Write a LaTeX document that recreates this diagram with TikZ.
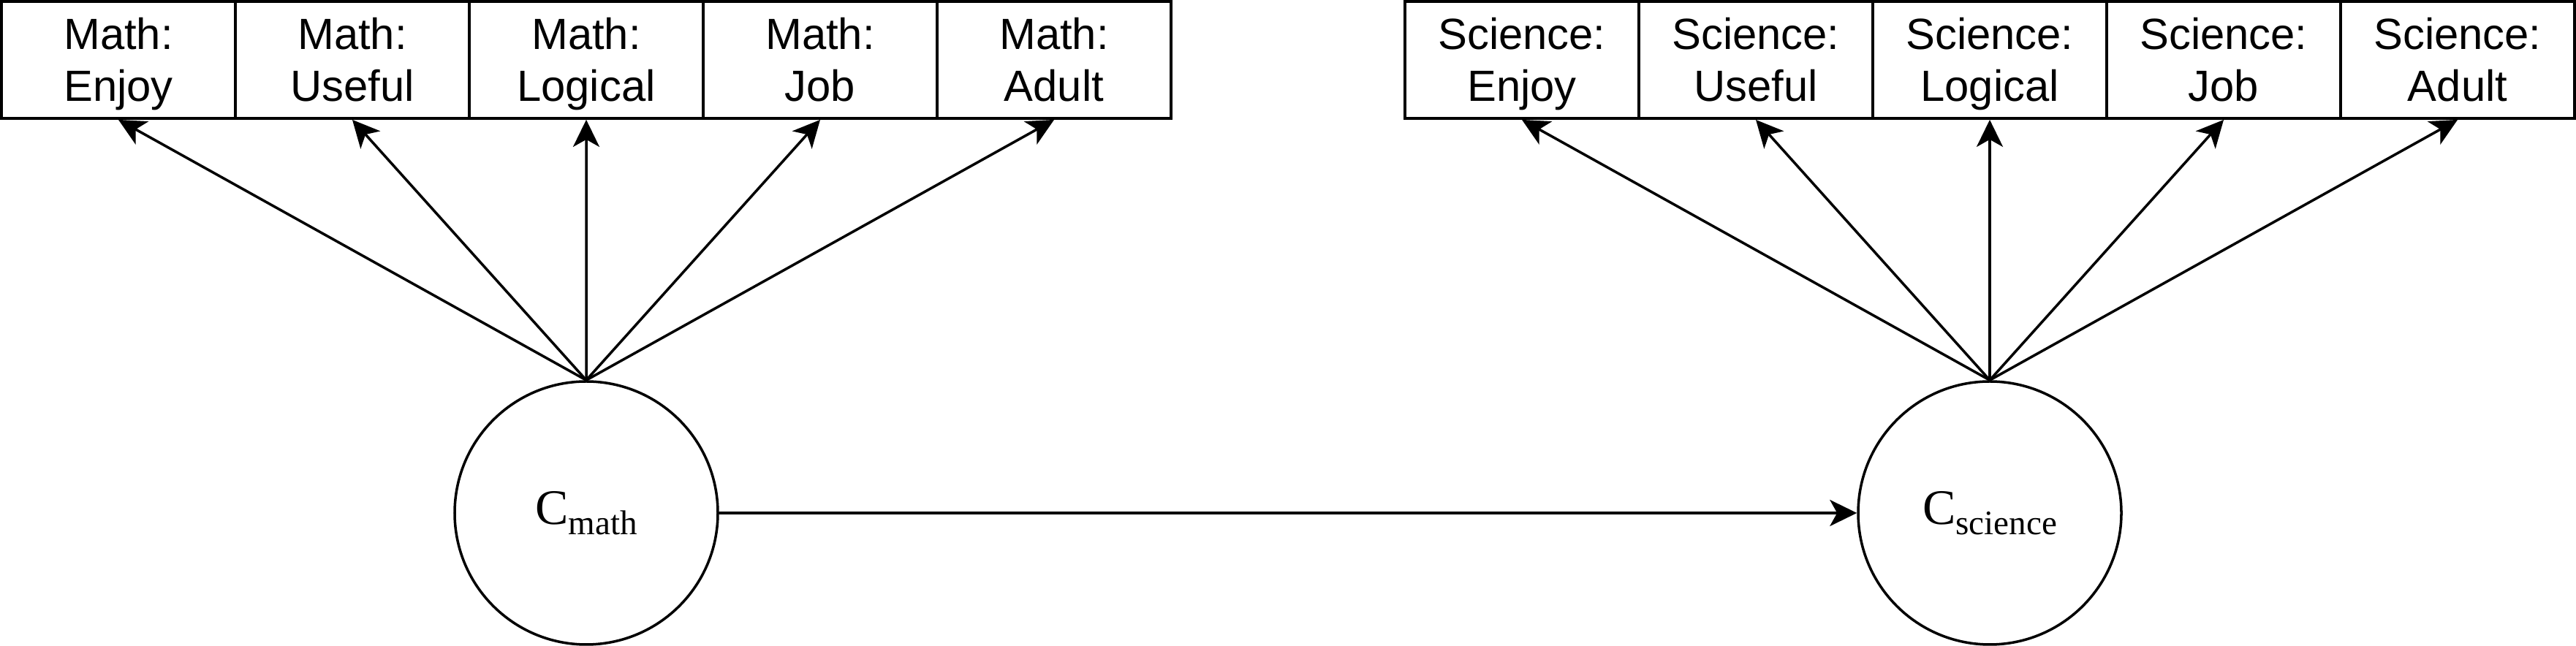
\documentclass[tikz,border=0pt]{standalone}
\usepackage{fontspec}
\setmainfont{Liberation Serif}
\newfontfamily\arialfont{Liberation Sans}
\usetikzlibrary{arrows.meta}

\newcommand{\lstrut}{\rule[-0.127cm]{0pt}{0.684cm}}
\newcommand{\latent}[1]{C{\fontsize{13.4}{14}\selectfont\raisebox{-0.14cm}{#1}}}

\tikzset{
  item/.style={draw, line width=1.1pt, fill=white, minimum width=3.2cm, minimum height=1.6cm,
    inner sep=0pt, align=center, font=\arialfont\fontsize{17}{20.2}\selectfont},
  factor/.style={draw, circle, line width=1pt, minimum size=3.6cm, inner sep=0pt,
    font=\fontsize{19.35}{22}\selectfont},
  load/.style={line width=1pt, -{Stealth[length=0.37cm, width=0.36cm, inset=0.1cm]}}
}

\begin{document}
\begin{tikzpicture}
  % Fix the page size
  \useasboundingbox (0,0) rectangle (35.24,8.84);

  % Draw the indicator boxes
  \foreach \lbl [count=\i from 0] in {Enjoy,Useful,Logical,Job,Adult} {
    \node[item] (m\lbl) at ({1.62+3.2*\i},8.02) {\lstrut Math:\\\lstrut \lbl};
    \node[item] (s\lbl) at ({20.82+3.2*\i},8.02) {\lstrut Science:\\\lstrut \lbl};
  }

  % Draw the two latent factors
  \node[factor] (cmath) at (8.02,1.82) {\latent{math}};
  \node[factor] (cscience) at (27.22,1.82) {\latent{science}};

  % Draw the loadings
  \foreach \lbl in {Enjoy,Useful,Logical,Job,Adult} {
    \draw[load] (cmath.north) -- (m\lbl.south);
    \draw[load] (cscience.north) -- (s\lbl.south);
  }

  % Draw the path between the factors
  \draw[load] (cmath) -- (cscience);
\end{tikzpicture}
\end{document}
